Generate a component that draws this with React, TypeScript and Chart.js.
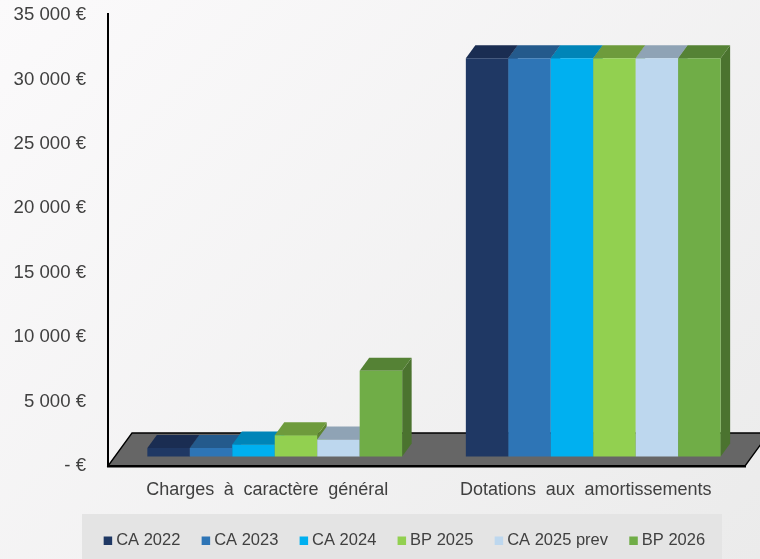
import React, { useEffect, useRef } from "react";
import { Chart, registerables } from "chart.js";

Chart.register(...registerables);

const categories = ["Charges à caractère général", "Dotations aux amortissements"];
const seriesNames = ["CA 2022", "CA 2023", "CA 2024", "BP 2025", "CA 2025 prev", "BP 2026"];
const ca2022 = [660, 30900];
const ca2023 = [660, 30900];
const ca2024 = [930, 30900];
const bp2025 = [1650, 30900];
const ca2025prev = [1320, 30900];
const bp2026 = [6650, 30900];
const seriesValues = [ca2022, ca2023, ca2024, bp2025, ca2025prev, bp2026];

const frontColors = ["#1F3864", "#2E75B6", "#00B0F0", "#92D050", "#BDD7EE", "#70AD47"];
const topColors = ["#1A2D52", "#245A8C", "#0085B8", "#6E9B3C", "#8FA3B5", "#558235"];
const sideColors = ["#14233F", "#1E4C78", "#00709A", "#5D8432", "#7A8C9B", "#4B732F"];

const TEXT = "#404040";
const FONT = "'Liberation Sans', Arial, sans-serif";

// 3D look: the bars stand inside a tilted floor
const BAR_SHIFT_X = 7.5;
const BAR_SHIFT_Y = -9.5;
const DEPTH_X = 9.5;
const DEPTH_Y = -13;
const FLOOR_X = 24;
const FLOOR_Y = -33;

const scene3d = {
  id: "scene3d",
  afterLayout(chart: any) {
    const legend = chart.legend;
    legend.left += 34;
    legend.right += 34;
    const xs = chart.scales.x;
    if (!xs.__wrapped) {
      const draw = xs.drawLabels.bind(xs);
      xs.drawLabels = (area: any) => {
        (chart.ctx as any).wordSpacing = "4.7px";
        draw(area);
        (chart.ctx as any).wordSpacing = "0px";
      };
      xs.__wrapped = true;
    }
  },
  beforeDraw(chart: any) {
    const { ctx, scales } = chart;
    ctx.save();
    ctx.fillStyle = "#E4E4E4";
    ctx.fillRect(82, 514, 640, 45);
    const y0 = scales.y.getPixelForValue(0);
    ctx.beginPath();
    ctx.moveTo(scales.x.left, y0);
    ctx.lineTo(scales.x.left + FLOOR_X, y0 + FLOOR_Y);
    ctx.lineTo(scales.x.right + FLOOR_X, y0 + FLOOR_Y);
    ctx.lineTo(scales.x.right, y0);
    ctx.closePath();
    ctx.fillStyle = "#666666";
    ctx.fill();
    ctx.strokeStyle = "#000000";
    ctx.lineWidth = 1.3;
    ctx.stroke();
    // the value axis rises slightly above its last tick
    ctx.beginPath();
    ctx.moveTo(scales.x.left, scales.y.top - 2);
    ctx.lineTo(scales.x.left, scales.y.top + 1);
    ctx.lineWidth = 2;
    ctx.stroke();
    ctx.restore();
  },
  // Paint the series left to right so that each bar overlaps the one before it.
  beforeDatasetsDraw(chart: any) {
    const { ctx } = chart;
    seriesNames.forEach((_, i) => {
      const meta = chart.getDatasetMeta(i);
      ctx.save();
      ctx.translate(BAR_SHIFT_X, BAR_SHIFT_Y);
      meta.data.forEach((bar: any) => {
        const l = bar.x - bar.width / 2;
        const r = bar.x + bar.width / 2;
        const t = bar.y;
        const b = bar.base;
        ctx.beginPath();
        ctx.moveTo(r, t);
        ctx.lineTo(r + DEPTH_X, t + DEPTH_Y);
        ctx.lineTo(r + DEPTH_X, b + DEPTH_Y);
        ctx.lineTo(r, b);
        ctx.closePath();
        ctx.fillStyle = sideColors[i];
        ctx.fill();
        ctx.beginPath();
        ctx.moveTo(l, t);
        ctx.lineTo(l + DEPTH_X, t + DEPTH_Y);
        ctx.lineTo(r + DEPTH_X, t + DEPTH_Y);
        ctx.lineTo(r, t);
        ctx.closePath();
        ctx.fillStyle = topColors[i];
        ctx.fill();
      });
      meta.controller.draw();
      ctx.restore();
    });
    return false;
  },
};

export default function App() {
  const ref = useRef<HTMLCanvasElement | null>(null);

  useEffect(() => {
    const chart = new Chart(ref.current as HTMLCanvasElement, {
      type: "bar",
      data: {
        labels: categories,
        datasets: seriesNames.map((name, i) => ({
          label: name,
          data: seriesValues[i],
          backgroundColor: frontColors[i],
          borderWidth: 0,
          barPercentage: 1,
          categoryPercentage: 0.8,
        })),
      },
      options: {
        responsive: false,
        animation: false,
        layout: { padding: { top: 15, right: 15, left: 0, bottom: 0 } },
        plugins: {
          title: { display: false },
          tooltip: { enabled: false },
          legend: {
            display: true,
            position: "bottom",
            labels: {
              usePointStyle: true,
              pointStyle: "rect",
              boxWidth: 0.01,
              boxHeight: 8.5,
              padding: 25.5,
              color: TEXT,
              font: { family: FONT, size: 16.5 },
            },
          },
        },
        scales: {
          x: {
            grid: { display: false, drawTicks: false },
            border: { display: true, color: "#000000", width: 2.5 },
            afterFit: (s: any) => {
              s.height = 41;
            },
            ticks: {
              padding: 13,
              color: TEXT,
              autoSkip: false,
              maxRotation: 0,
              font: { family: FONT, size: 18 },
            },
          },
          y: {
            min: 0,
            max: 35000,
            grid: { display: false, drawTicks: false },
            border: { display: true, color: "#000000", width: 2 },
            afterFit: (s: any) => {
              s.width = 108;
              s.paddingTop = 0;
              s.paddingBottom = 0;
            },
            ticks: {
              stepSize: 5000,
              padding: 22,
              color: TEXT,
              font: { family: FONT, size: 18.6 },
              callback: (v: any) => (v === 0 ? "- €" : `${Number(v) / 1000} 000 €`),
            },
          },
        },
      },
      plugins: [scene3d],
    });
    return () => chart.destroy();
  }, []);

  return (
    <div
      style={{
        width: 760,
        height: 559,
        background: "linear-gradient(135deg, #FBFAFB 0%, #EBEBEB 100%)",
      }}
    >
      <style>{"body{margin:0}"}</style>
      <canvas ref={ref} width={760} height={559} style={{ display: "block" }} />
    </div>
  );
}
